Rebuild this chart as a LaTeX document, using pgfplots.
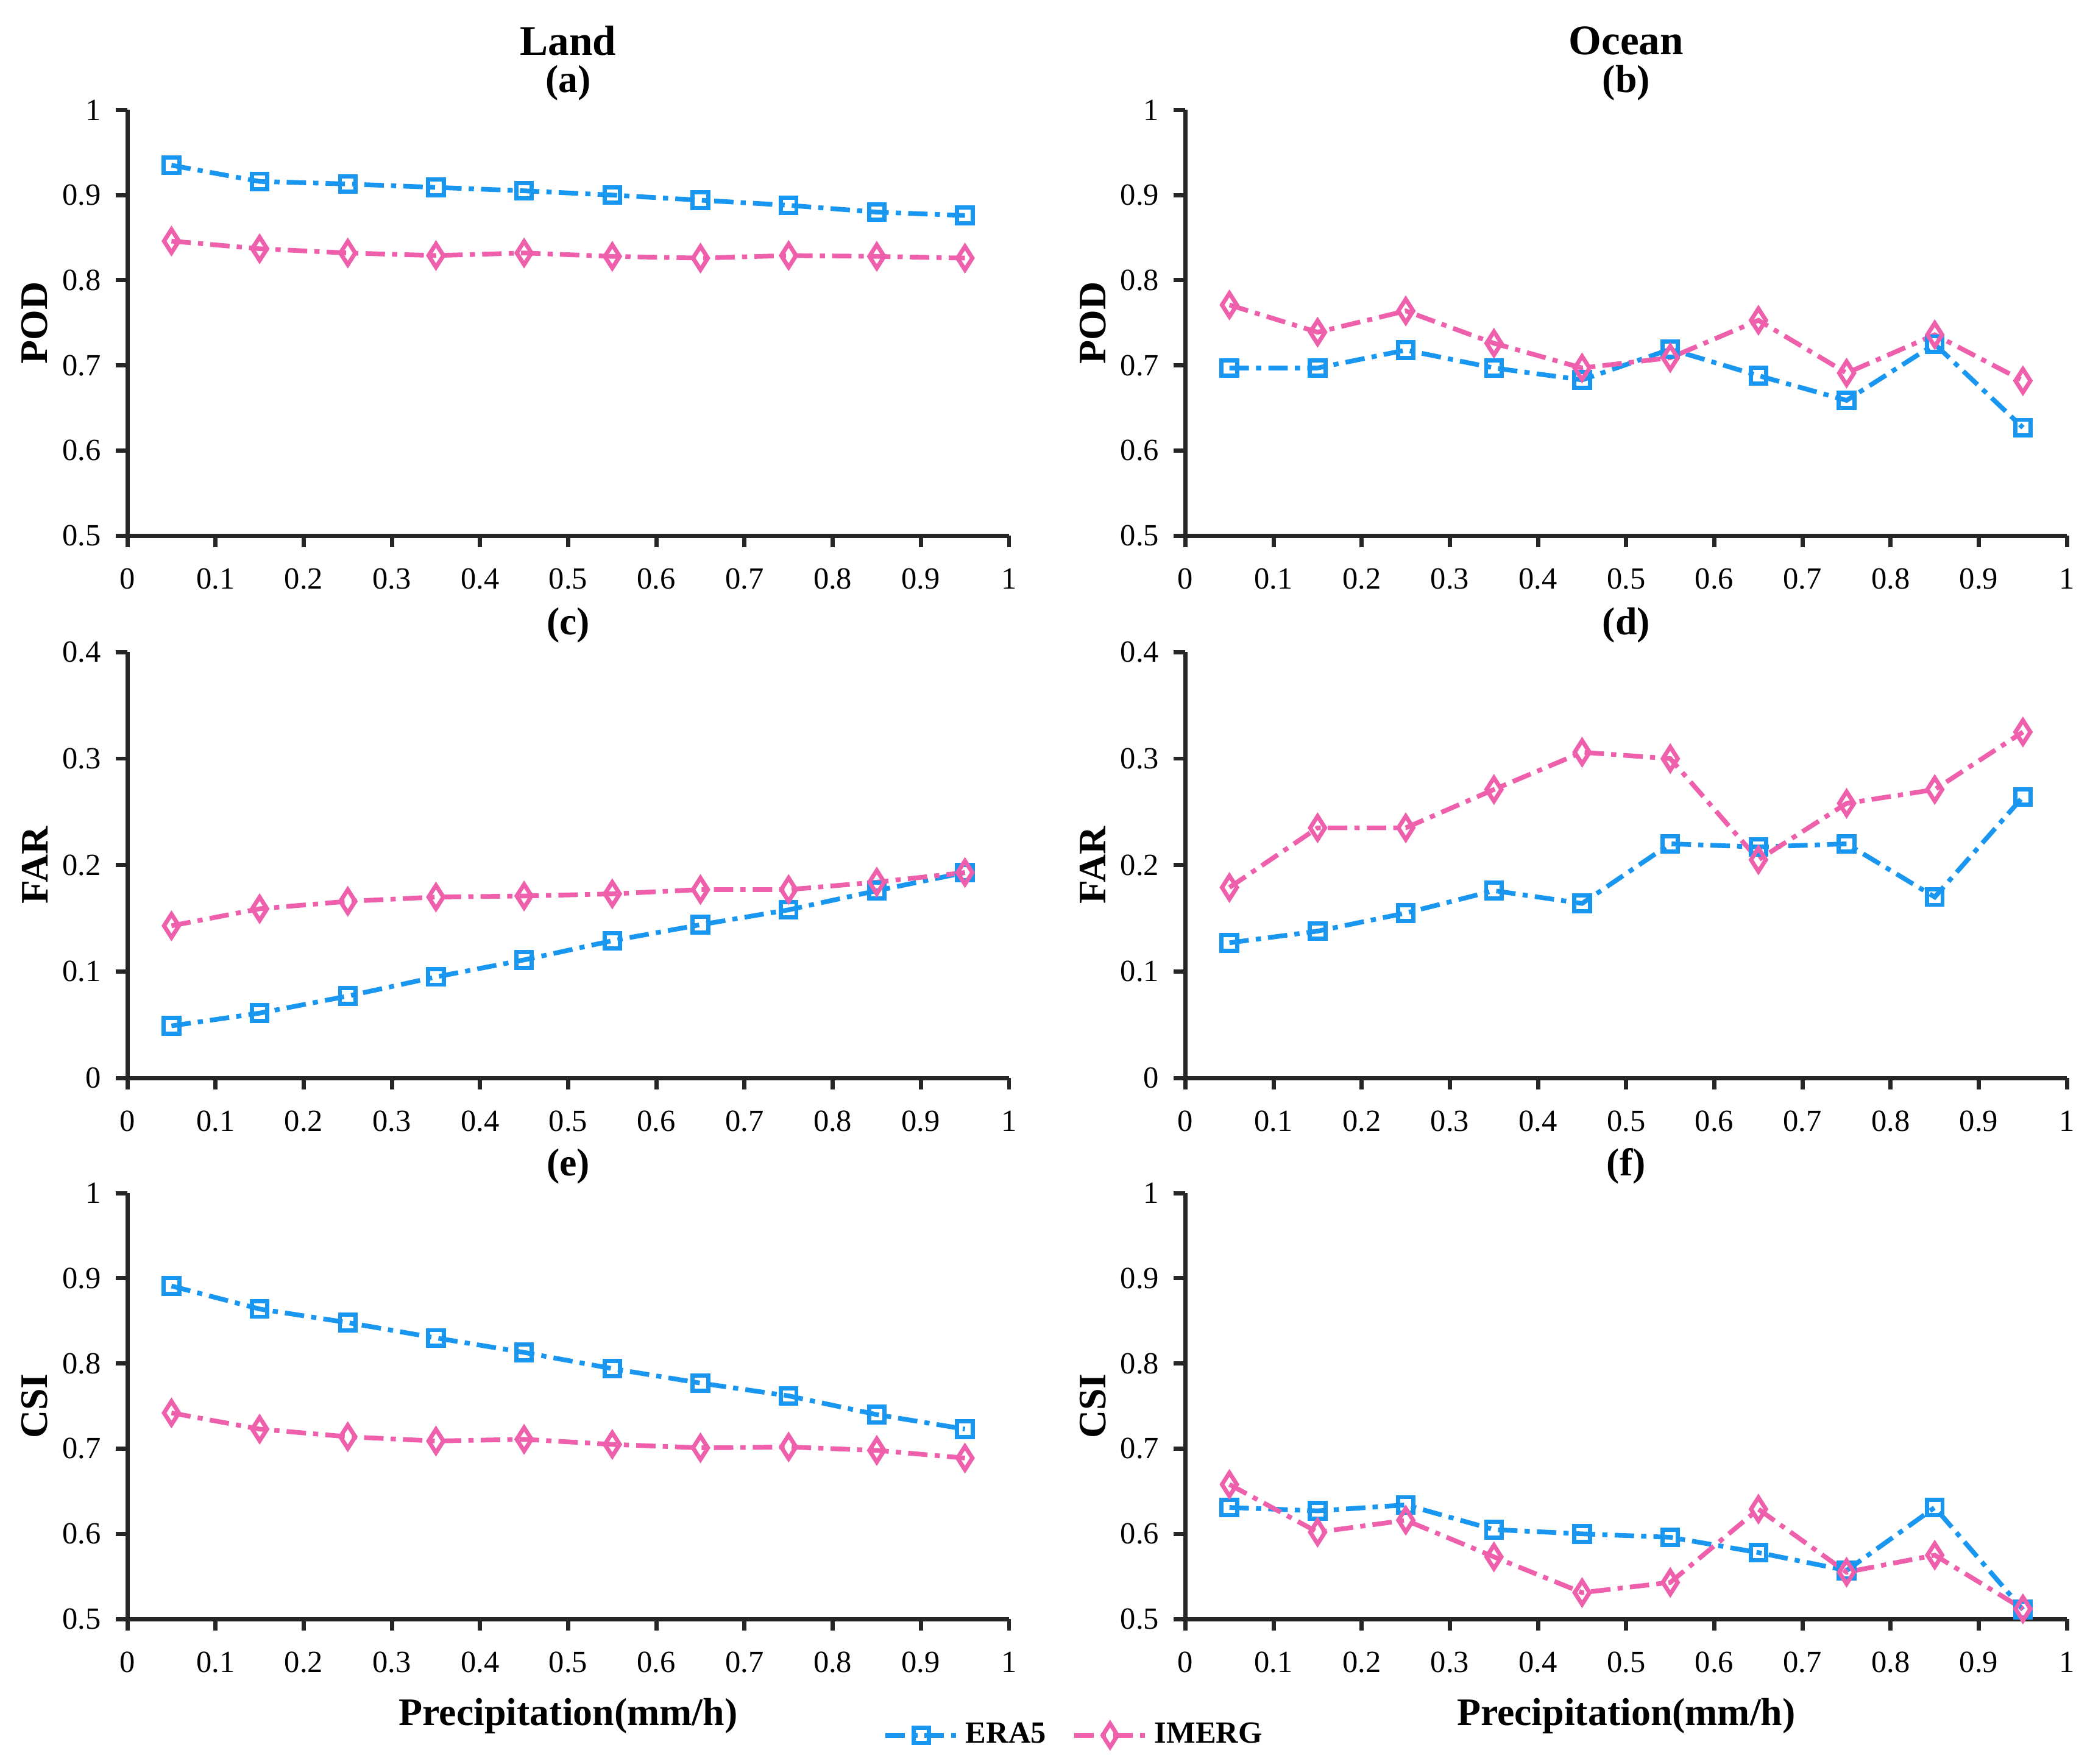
\documentclass[border=0pt]{standalone}
\usepackage{fontspec}
\setmainfont{Liberation Serif}
\usepackage{pgfplots}
\pgfplotsset{compat=1.18}
\definecolor{era}{RGB}{24,150,240}
\definecolor{imerg}{RGB}{238,95,172}
\pgfplotsset{
 every axis title shift=0pt,
 panel/.style={
  width=272pt,height=131.4pt,scale only axis,anchor=south west,
  xmin=0,xmax=1,
  axis x line*=bottom, axis y line*=left,
  axis line style={line width=1.3pt, black!85},
  tick align=outside, major tick length=3.6pt,
  every tick/.style={line width=1.3pt, black!85},
  xtick={0,0.1,0.2,0.3,0.4,0.5,0.6,0.7,0.8,0.9,1},
  tick label style={font=\fontsize{9.5}{10}\selectfont},
  /pgf/number format/assume math mode=true,
  xticklabel style={yshift=-3pt},
  yticklabel style={xshift=-1pt},
  title style={at={(0.5,1)},anchor=center,yshift=8.3pt,font=\bfseries\fontsize{12}{13}\selectfont},
  ylabel style={at={(axis description cs:-0.105,0.5)},anchor=center,font=\bfseries\fontsize{12}{13}\selectfont},
  xlabel style={at={(axis description cs:0.5,-0.2275)},anchor=center,font=\bfseries\fontsize{12}{13}\selectfont},
 },
 podax/.style={ymin=0.5,ymax=1,ytick={0.5,0.6,0.7,0.8,0.9,1}},
 farax/.style={ymin=0,ymax=0.4,ytick={0,0.1,0.2,0.3,0.4}},
 erastyle/.style={color=era, line width=1.45pt, dash pattern=on 6pt off 2.2pt on 1.6pt off 2.2pt,
   mark=square, mark size=2.4pt, mark options={solid, line width=1.3pt}},
 imergstyle/.style={color=imerg, line width=1.45pt, dash pattern=on 6pt off 2.2pt on 1.6pt off 2.2pt,
   mark=diamond, mark size=3.6pt, mark options={solid, line width=1.3pt, xscale=0.85}},
}
\begin{document}
\begin{tikzpicture}
\path[use as bounding box] (0,0) rectangle (644.8pt,544.1pt);
% (a)
\begin{axis}[panel,podax,at={(39.3pt,378.8pt)},title={(a)},ylabel={POD},clip=false]
\addplot[erastyle] coordinates {(0.05,0.935)(0.15,0.916)(0.25,0.913)(0.35,0.909)(0.45,0.905)(0.55,0.900)(0.65,0.894)(0.75,0.888)(0.85,0.880)(0.95,0.876)};
\addplot[imergstyle] coordinates {(0.05,0.846)(0.15,0.837)(0.25,0.832)(0.35,0.829)(0.45,0.832)(0.55,0.828)(0.65,0.826)(0.75,0.829)(0.85,0.828)(0.95,0.826)};
\node[font=\bfseries\fontsize{13}{14}\selectfont] at (rel axis cs:0.5,1) [yshift=21.4pt] {Land};
\end{axis}
% (b)
\begin{axis}[panel,podax,at={(365.7pt,378.8pt)},title={(b)},ylabel={POD},clip=false]
\addplot[erastyle] coordinates {(0.05,0.697)(0.15,0.697)(0.25,0.718)(0.35,0.697)(0.45,0.683)(0.55,0.719)(0.65,0.688)(0.75,0.659)(0.85,0.725)(0.95,0.627)};
\addplot[imergstyle] coordinates {(0.05,0.771)(0.15,0.739)(0.25,0.764)(0.35,0.726)(0.45,0.697)(0.55,0.709)(0.65,0.753)(0.75,0.691)(0.85,0.736)(0.95,0.682)};
\node[font=\bfseries\fontsize{13}{14}\selectfont] at (rel axis cs:0.5,1) [yshift=21.4pt] {Ocean};
\end{axis}
% (c)
\begin{axis}[panel,farax,at={(39.3pt,211.5pt)},title={(c)},ylabel={FAR}]
\addplot[erastyle] coordinates {(0.05,0.049)(0.15,0.061)(0.25,0.077)(0.35,0.095)(0.45,0.111)(0.55,0.129)(0.65,0.144)(0.75,0.158)(0.85,0.176)(0.95,0.193)};
\addplot[imergstyle] coordinates {(0.05,0.143)(0.15,0.159)(0.25,0.166)(0.35,0.170)(0.45,0.171)(0.55,0.173)(0.65,0.177)(0.75,0.177)(0.85,0.184)(0.95,0.193)};
\end{axis}
% (d)
\begin{axis}[panel,farax,at={(365.7pt,211.5pt)},title={(d)},ylabel={FAR}]
\addplot[erastyle] coordinates {(0.05,0.127)(0.15,0.138)(0.25,0.155)(0.35,0.176)(0.45,0.164)(0.55,0.220)(0.65,0.217)(0.75,0.220)(0.85,0.170)(0.95,0.264)};
\addplot[imergstyle] coordinates {(0.05,0.179)(0.15,0.235)(0.25,0.235)(0.35,0.271)(0.45,0.306)(0.55,0.300)(0.65,0.205)(0.75,0.258)(0.85,0.271)(0.95,0.325)};
\end{axis}
% (e)
\begin{axis}[panel,podax,at={(39.3pt,44.6pt)},title={(e)},ylabel={CSI},xlabel={Precipitation(mm/h)},
  legend columns=2,
  legend style={at={(1.076,-0.273)},anchor=center,draw=none,fill=none,
    font=\bfseries\fontsize{9.5}{10}\selectfont,
    /tikz/every even column/.append style={column sep=6pt}},
  legend image code/.code={\draw[mark repeat=2,mark phase=2] plot coordinates {(0pt,0pt) (11pt,0pt) (22pt,0pt)};}]
\addplot[erastyle] coordinates {(0.05,0.891)(0.15,0.864)(0.25,0.848)(0.35,0.830)(0.45,0.813)(0.55,0.794)(0.65,0.777)(0.75,0.762)(0.85,0.740)(0.95,0.723)};
\addlegendentry{ERA5}
\addplot[imergstyle] coordinates {(0.05,0.742)(0.15,0.723)(0.25,0.714)(0.35,0.709)(0.45,0.711)(0.55,0.705)(0.65,0.701)(0.75,0.702)(0.85,0.698)(0.95,0.689)};
\addlegendentry{IMERG}
\end{axis}
% (f)
\begin{axis}[panel,podax,at={(365.7pt,44.6pt)},title={(f)},ylabel={CSI},xlabel={Precipitation(mm/h)}]
\addplot[erastyle] coordinates {(0.05,0.631)(0.15,0.627)(0.25,0.634)(0.35,0.605)(0.45,0.600)(0.55,0.596)(0.65,0.578)(0.75,0.557)(0.85,0.631)(0.95,0.511)};
\addplot[imergstyle] coordinates {(0.05,0.658)(0.15,0.602)(0.25,0.616)(0.35,0.573)(0.45,0.531)(0.55,0.543)(0.65,0.629)(0.75,0.555)(0.85,0.575)(0.95,0.512)};
\end{axis}
\end{tikzpicture}
\end{document}
